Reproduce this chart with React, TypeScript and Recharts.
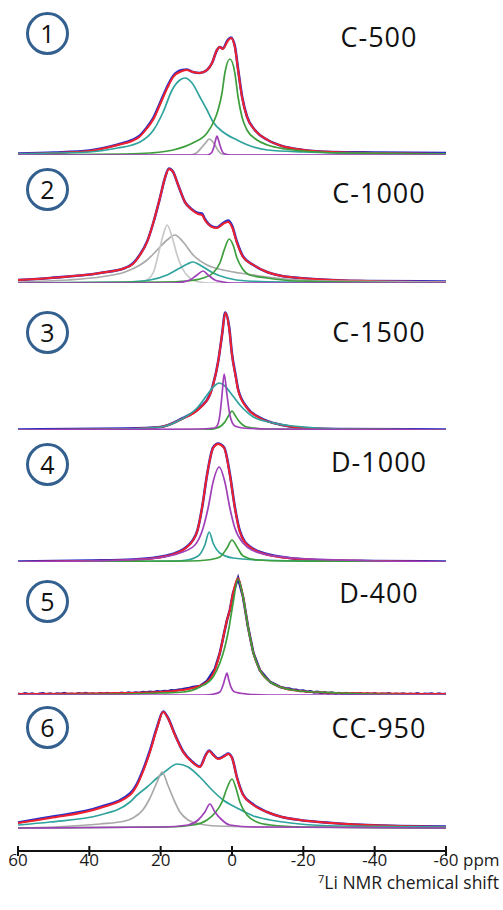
import { LineChart, Line, XAxis, YAxis } from "recharts";

type Pt = [number, number]; // [ppm, intensity in px above the baseline]

const axisTicks = [60, 40, 20, 0, -20, -40, -60];
const sampleNames = ["C-500", "C-1000", "C-1500", "D-1000", "D-400", "CC-950"];

// 1: C-500
const p1Blue: Pt[] = [[60,1.5],[50,2.5],[40,4.5],[32,10.5],[28,15],[26,19],[24,27],[22,37.5],[20,53.5],[18,69.5],[16.5,79],[14,85],[12.6,85.5],[11,83],[9,82],[7,85],[5.6,92],[4.2,105],[3.4,108],[2.6,106.5],[1.2,115],[0.3,117.5],[-0.8,109],[-1.7,86],[-2.8,59],[-4.2,38.5],[-6.4,25],[-10,15],[-14,9],[-20,5],[-28,3],[-40,2.5],[-60,2]];
const p1Red: Pt[] = [[60,1],[50,2],[40,4],[32,10],[28,14],[26,18],[24,26],[22,36],[20,52],[18,68],[16.5,78],[14,84],[12.6,85],[11,83],[9,82],[7,85],[5.6,92],[4.2,105],[3.4,108],[2.6,106],[1.2,114],[0.3,117],[-0.8,108],[-1.7,85],[-2.8,58],[-4.2,38],[-6.4,25],[-10,15],[-14,9],[-20,5],[-28,3],[-40,2],[-60,1]];
const p1Teal: Pt[] = [[60,1],[50,2],[40,3],[32,7],[28,10],[25.8,13],[22,25],[19.3,43],[16.8,65],[14.6,75],[13.2,77],[11.2,72],[9,58],[7,45],[5.3,33],[2.5,23],[-1.4,15],[-6,8],[-10,5],[-20,3],[-30,2],[-60,1]];
const p1Gray: Pt[] = [[60,0],[12,0],[10,2],[8.4,8],[7.2,13],[6.4,16],[5.6,14],[4.8,10],[3.8,4],[2.8,1],[0,0],[-60,0]];
const p1Green: Pt[] = [[60,0],[30,1],[23,2],[16.5,5],[11,12],[7,22],[5.3,32],[3.9,45],[2.8,62],[2,82],[0.6,96],[-0.8,82],[-1.7,58],[-2.8,38],[-4.2,25],[-7,15],[-10,10],[-15,6],[-20,4],[-30,2],[-60,1]];
const p1Purple: Pt[] = [[60,0],[7,0],[5.8,2],[5,9],[4.6,15],[4.2,19],[3.8,15],[3.4,10],[2.8,4],[2,1],[0,0],[-60,0]];

// 2: C-1000
const p2Blue: Pt[] = [[60,3],[51,5],[37,10],[30,15],[27.8,19.5],[25.8,28.5],[23.8,41.5],[22,61],[20.2,85],[18.8,105],[17.7,114.5],[16.5,111],[15.1,98],[13.2,81],[11.2,73.5],[9.5,70],[8.4,69.5],[7.6,64],[5.6,56.5],[4.2,55.5],[2.5,60],[1.1,62.5],[0,57.5],[-1.4,41],[-3.1,26.5],[-6,18],[-9.8,11],[-14,7],[-19,5],[-28,3],[-38,2],[-60,1.5]];
const p2Red: Pt[] = [[60,3],[51,5],[37,10],[30,15],[27.8,19],[25.8,28],[23.8,41],[22,61],[20.2,85],[18.8,105],[17.7,114],[16.5,111],[15.1,98],[13.2,81],[11.2,73],[9.5,69],[8.4,68],[7.6,63],[5.6,56],[4.2,55],[2.5,59],[1.1,61],[0,56],[-1.4,40],[-3.1,26],[-6,18],[-9.8,11],[-14,7],[-19,5],[-28,3],[-38,2],[-60,1]];
const p2GrayNarrow: Pt[] = [[60,0],[28,0],[25,1],[23.8,3],[22,11],[20.7,28],[19.3,48],[18.2,58],[16.8,46],[15.4,28],[14,15],[11.8,5],[9,1],[6,0],[-60,0]];
const p2GrayBroad: Pt[] = [[60,1],[46,3],[37,6],[30,11],[25.8,18],[23.8,23],[21,33],[18.2,43],[16,48],[13.7,41],[10.9,28],[7,18],[2.5,13],[-2.2,10],[-7.8,7],[-15,4],[-28,2],[-60,1]];
const p2Teal: Pt[] = [[60,0],[30,1],[23,3],[18.2,8],[14.6,15],[12.5,19],[10.9,21],[9.5,19],[8.1,16],[5.3,10],[1.4,5],[-4.2,2],[-15,1],[-60,0]];
const p2Green: Pt[] = [[60,0],[20,1],[12.6,2],[8.1,5],[5.3,10],[3.4,20],[2,35],[0.8,44],[-0.3,38],[-1.4,25],[-2.8,15],[-5,8],[-9.8,5],[-18,2],[-60,0]];
const p2Purple: Pt[] = [[60,0],[16,0],[11.8,3],[9.8,8],[8.1,12],[6.7,8],[4.8,3],[2.5,1],[0,0],[-60,0]];

// 3: C-1500
const p3Blue: Pt[] = [[60,0.5],[30,1.5],[20,3],[14,11.5],[9,22.5],[6.2,35.5],[5.3,45.5],[3.9,68],[2.8,95],[1.9,117.5],[0.8,103],[0,76],[-1.1,53],[-1.7,41],[-4.2,22.5],[-7.8,12.5],[-14,5],[-20,2],[-30,1],[-60,0.5]];
const p3Red: Pt[] = [[60,0],[30,1],[20,3],[14,11],[9,22],[6.2,35],[5.3,45],[3.9,68],[2.8,95],[1.9,117],[0.8,102],[0,75],[-1.1,52],[-1.7,40],[-4.2,22],[-7.8,12],[-14,5],[-20,2],[-30,1],[-60,0]];
const p3Teal: Pt[] = [[60,0],[30,1],[20,3],[14.6,10],[9.8,22],[7,35],[5,44],[3.6,47],[2,44],[0.6,38],[-2.2,25],[-6,13],[-11.5,7],[-20,3],[-30,1],[-60,0]];
const p3Green: Pt[] = [[60,0],[8,0],[4.2,2],[2,8],[1,14],[0,19],[-0.8,15],[-1.7,10],[-4.2,3],[-10,1],[-60,0]];
const p3Purple: Pt[] = [[60,0],[10,1],[5,2],[4.2,4],[3.4,15],[2.8,35],[2.2,56],[1.4,35],[0.6,15],[-0.8,4],[-3,2],[-10,1],[-60,0]];

// 4: D-1000
const p4Blue: Pt[] = [[60,0.5],[40,1.5],[27.8,2.5],[18.2,6.5],[12.6,15.5],[9.8,30.5],[8.4,54],[7,87],[5.3,114.5],[3.9,118.5],[2.2,114.5],[0.6,88],[-0.8,55],[-2.2,31],[-5,15.5],[-11.5,6.5],[-24,2],[-40,1],[-60,0.5]];
const p4Red: Pt[] = [[60,0],[40,1],[27.8,2],[18.2,6],[12.6,15],[9.8,30],[8.4,54],[7,87],[5.3,114],[3.9,118],[2.2,114],[0.6,87],[-0.8,54],[-2.2,30],[-5,15],[-11.5,6],[-24,2],[-40,1],[-60,0]];
const p4Teal: Pt[] = [[60,0],[16,1],[12.6,2],[9.5,6],[7.6,17],[6.4,30],[5.3,19],[3.4,9],[-0.3,4],[-8,2],[-20,1],[-60,0]];
const p4Green: Pt[] = [[60,0],[12,1],[7,2],[3.4,5],[1.4,14],[0,22],[-1.4,15],[-3.1,6],[-7,2],[-15,1],[-60,0]];
const p4Purple: Pt[] = [[60,0],[40,1],[30,2],[21,4],[14.6,9],[10.4,17],[8.1,34],[6.7,54],[5.3,80],[3.6,95],[2,80],[0.6,54],[-0.8,34],[-3.1,19],[-7.8,9],[-17,4],[-30,2],[-60,0]];

// 5: D-400 (the measured trace is noisy along the baseline)
const p5Blue: Pt[] = [[60,1.2],[59,0.4],[58,1.6],[57,0.8],[56,1.4],[55,0.3],[54,1.1],[53,1.7],[52,0.6],[51,1.3],[50,0.5],[49,1.5],[48,0.9],[47,1.8],[46,0.7],[45,1.2],[44,0.4],[43,1.6],[42,1.0],[41,1.9],[40,0.8],[39,1.4],[38,0.6],[37,1.7],[36,1.1],[35,2.0],[34,1.0],[33,1.8],[32,1.3],[31,2.2],[30,1.4],[29,2.3],[28,1.7],[27,2.5],[26,2.0],[25,2.9],[24,2.4],[23,3.2],[22,2.8],[21,3.6],[20,3.3],[19,4.0],[18,3.8],[17,4.6],[16,4.5],[15,5.3],[14,5.6],[12,7],[10.9,8],[9,9],[7,14],[4.8,26],[3.4,42],[2.2,62],[1.4,75],[0.6,85],[-0.3,102],[-1.7,117],[-3.1,98],[-4.5,68],[-6,42],[-7.8,25],[-10.7,13],[-13.5,8],[-15,6.8],[-16,6.4],[-17,5.2],[-18,5.3],[-19,4.1],[-20,4.4],[-21,3.3],[-22,3.7],[-23,2.6],[-24,3.1],[-25,2.0],[-26,2.7],[-27,1.6],[-28,2.3],[-29,1.2],[-30,2.0],[-31,1.0],[-32,1.8],[-33,0.7],[-34,1.6],[-35,0.9],[-36,1.7],[-37,0.5],[-38,1.4],[-39,0.8],[-40,1.6],[-41,0.4],[-42,1.3],[-43,0.9],[-44,1.7],[-45,0.5],[-46,1.2],[-47,0.7],[-48,1.5],[-49,0.4],[-50,1.3],[-51,0.8],[-52,1.6],[-53,0.5],[-54,1.2],[-55,0.9],[-56,1.5],[-57,0.4],[-58,1.3],[-59,0.7],[-60,1.2]];
const p5Red: Pt[] = [[60,1],[30,2],[20,3],[14,5],[10.9,7],[7,13],[4.8,25],[3.4,42],[2.2,62],[1.4,75],[0.6,85],[-0.3,102],[-1.7,117],[-3.1,98],[-4.5,68],[-6,42],[-7.8,25],[-10.7,13],[-13.5,8],[-19,4],[-30,2],[-60,1]];
const p5Green: Pt[] = [[60,0],[30,1],[20,2],[13.7,3],[9,8],[5.3,18],[3.4,32],[2,48],[0.8,68],[-0.3,92],[-1.7,116],[-3.1,98],[-4.5,68],[-6,42],[-7.8,25],[-10.7,13],[-13.5,8],[-19,4],[-30,2],[-60,0]];
const p5Purple: Pt[] = [[60,0],[8,0],[5,1],[3.4,3],[2.5,10],[2,16],[1.4,22],[0.9,15],[0.3,8],[-0.8,3],[-4,1],[-10,0],[-60,0]];

// 6: CC-950
const p6Blue: Pt[] = [[60,5.5],[51,11],[37,21],[28.6,34.5],[26.6,44.5],[25,57.5],[23,77.5],[21,101],[19.3,116.5],[18,110.5],[16,93.5],[13.7,76.5],[11.2,66.5],[9,61.5],[7.3,73.5],[6.4,77.5],[5.3,73.5],[3.9,69.5],[2,72.5],[1.1,74.5],[0,70.5],[-1.4,50.5],[-3.1,33.5],[-6,23.5],[-9.8,16],[-14,11],[-19,8],[-28,5],[-38,3],[-60,1.5]];
const p6Red: Pt[] = [[60,5],[51,10],[37,20],[28.6,33],[26.6,43],[25,56],[23,76],[21,100],[19.3,116],[18,110],[16,93],[13.7,76],[11.2,66],[9,61],[7.3,73],[6.4,77],[5.3,73],[3.9,69],[2,72],[1.1,74],[0,70],[-1.4,50],[-3.1,33],[-6,23],[-9.8,16],[-14,11],[-19,8],[-28,5],[-38,3],[-60,1]];
const p6Teal: Pt[] = [[60,3],[51,6],[37,13],[28.6,26],[26.6,33],[23.8,41],[21,50],[18.2,58],[15.4,64],[12.3,61],[9,51],[5.6,38],[2.5,28],[-1.4,20],[-6,12],[-10.7,8],[-19,4],[-30,2],[-60,1]];
const p6Gray: Pt[] = [[60,0],[50,1],[37,4],[30,7],[27.8,10],[25,18],[23,30],[21,46],[19.6,56],[18,43],[16.5,30],[14.6,16],[12.3,8],[9,4],[4.2,2],[-10,1],[-60,0]];
const p6Green: Pt[] = [[60,0],[18,1],[10.9,3],[7,8],[4.8,15],[2.8,26],[1.4,40],[0,49],[-1.1,40],[-2.2,26],[-4.2,13],[-7,6],[-10.7,3],[-20,1],[-60,0]];
const p6Purple: Pt[] = [[60,0],[20,1],[12.3,3],[9.5,8],[7.6,16],[6.2,24],[4.8,16],[2.8,8],[0.6,3],[-6,1],[-60,0]];

const BLUE = "#2a2fc8";
const DARK_BLUE = "#1f22a8";
const RED = "#f0202c";
const TEAL = "#2fa39e";
const GREEN = "#3c9e3c";
const GRAY = "#a9a9a9";
const LIGHT_GRAY = "#c9c9c9";
const PURPLE = "#a040b8";
const RING = "#33608f";
const FONT = "'Open Sans', sans-serif";

const W = 503;
const PLOT_H = 130;
const AXIS_GAP = 23; // baseline of the last trace sits above the ppm axis
const AXIS_H = 50;

type Curve = { pts: Pt[]; color: string; width?: number; linear?: boolean };

const panels: { baseline: number; mark: number; label: number; curves: Curve[] }[] = [
  { baseline: 155, mark: 34, label: 37, curves: [
    { pts: p1Blue, color: BLUE, width: 2.6 }, { pts: p1Red, color: RED, width: 2 },
    { pts: p1Teal, color: TEAL }, { pts: p1Gray, color: GRAY }, { pts: p1Green, color: GREEN }, { pts: p1Purple, color: PURPLE },
  ] },
  { baseline: 283, mark: 190, label: 193, curves: [
    { pts: p2Blue, color: BLUE, width: 2.6 }, { pts: p2Red, color: RED, width: 2 },
    { pts: p2GrayBroad, color: GRAY }, { pts: p2GrayNarrow, color: LIGHT_GRAY }, { pts: p2Teal, color: TEAL },
    { pts: p2Green, color: GREEN }, { pts: p2Purple, color: PURPLE },
  ] },
  { baseline: 430, mark: 333, label: 332, curves: [
    { pts: p3Blue, color: BLUE, width: 2.6 }, { pts: p3Red, color: RED, width: 2 },
    { pts: p3Teal, color: TEAL }, { pts: p3Green, color: GREEN }, { pts: p3Purple, color: PURPLE },
  ] },
  { baseline: 562, mark: 465, label: 462, curves: [
    { pts: p4Blue, color: BLUE, width: 2.6 }, { pts: p4Red, color: RED, width: 2 },
    { pts: p4Teal, color: TEAL }, { pts: p4Green, color: GREEN }, { pts: p4Purple, color: PURPLE },
  ] },
  { baseline: 695, mark: 602, label: 593, curves: [
    { pts: p5Blue, color: DARK_BLUE, width: 2.6, linear: true }, { pts: p5Red, color: RED, width: 2 },
    { pts: p5Green, color: GREEN }, { pts: p5Purple, color: PURPLE },
  ] },
  { baseline: 828, mark: 728, label: 728, curves: [
    { pts: p6Blue, color: BLUE, width: 2.6 }, { pts: p6Red, color: RED, width: 2 },
    { pts: p6Teal, color: TEAL }, { pts: p6Gray, color: GRAY }, { pts: p6Green, color: GREEN }, { pts: p6Purple, color: PURPLE },
  ] },
];

const toRows = (pts: Pt[]) => pts.map(([ppm, h]) => ({ ppm, h }));

function PpmTick(props: any) {
  const { x, payload } = props;
  const y = PLOT_H + AXIS_GAP;
  return (
    <g>
      <line x1={x} x2={x} y1={y - 5} y2={y + 5} stroke="#111" strokeWidth={2} />
      <text x={x} y={y + 8} textAnchor="middle" dominantBaseline="central" fontSize={17} fill="#1a1a1a" fontFamily={FONT}>
        {payload.value}
      </text>
      {payload.value === -60 && (
        <text x={x + 17} y={y + 8} dominantBaseline="central" fontSize={17} fill="#1a1a1a" fontFamily={FONT}>
          ppm
        </text>
      )}
    </g>
  );
}

function Panel({ curves, baseline, axis }: { curves: Curve[]; baseline: number; axis: boolean }) {
  const plotH = axis ? PLOT_H + AXIS_GAP : PLOT_H;
  const top = baseline - PLOT_H;
  return (
    <div style={{ position: "absolute", left: 0, top }}>
      <LineChart width={W} height={plotH + (axis ? AXIS_H : 0)} margin={{ top: 0, right: 57, bottom: 0, left: 18 }}>
        <XAxis
          dataKey="ppm"
          type="number"
          domain={[-60, 60]}
          reversed
          hide={!axis}
          ticks={axisTicks}
          interval={0}
          height={AXIS_H}
          tickLine={false}
          tickSize={0}
          tickMargin={0}
          axisLine={{ stroke: "#111", strokeWidth: 2 }}
          tick={(p: any) => <PpmTick {...p} />}
        />
        <YAxis hide domain={axis ? [-AXIS_GAP, PLOT_H] : [0, PLOT_H]} />
        {curves.map((c, i) => (
          <Line
            key={i}
            data={toRows(c.pts)}
            dataKey="h"
            type={c.linear ? "linear" : "monotone"}
            stroke={c.color}
            strokeWidth={c.width ?? 1.7}
            dot={false}
            activeDot={false}
            isAnimationActive={false}
          />
        ))}
      </LineChart>
    </div>
  );
}

export default function App() {
  return (
    <div style={{ position: "absolute", left: 0, top: 0, width: W, height: 910, overflow: "hidden", background: "#fff", fontFamily: FONT }}>
      {panels.map((p, i) => (
        <Panel key={i} curves={p.curves} baseline={p.baseline} axis={i === panels.length - 1} />
      ))}
      {panels.map((p, i) => (
        <div key={"m" + i}>
          <div
            style={{
              position: "absolute", left: 26, top: p.mark - 22, width: 37, height: 37,
              border: `3.5px solid ${RING}`, borderRadius: "50%", display: "flex",
              alignItems: "center", justifyContent: "center", fontSize: 25, color: "#111", lineHeight: 1,
            }}
          >
            {i + 1}
          </div>
          <div
            style={{
              position: "absolute", left: 279, width: 200, top: p.label - 18, height: 36, lineHeight: "36px",
              textAlign: "center", fontSize: 27, letterSpacing: 1, color: "#111",
            }}
          >
            {sampleNames[i]}
          </div>
        </div>
      ))}
      <div style={{ position: "absolute", left: 318, top: 874, fontSize: 17.5, color: "#1a1a1a", whiteSpace: "nowrap", lineHeight: "17px" }}>
        <sup style={{ fontSize: 11, verticalAlign: "6px", lineHeight: 0 }}>7</sup>Li NMR chemical shift
      </div>
    </div>
  );
}
